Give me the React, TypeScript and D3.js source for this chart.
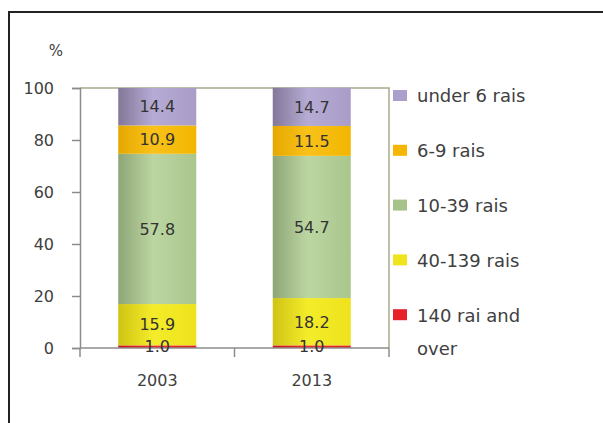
import React from 'react';
import { useRef, useEffect } from 'react';
import * as d3 from 'd3';

// categories and series (percent share of holdings, bottom to top)
const years = ["2003", "2013"];
const seriesNames = ["140 rai and over", "40-139 rais", "10-39 rais", "6-9 rais", "under 6 rais"];
const over140 = [1.0, 1.0];
const rais40to139 = [15.9, 18.2];
const rais10to39 = [57.8, 54.7];
const rais6to9 = [10.9, 11.5];
const under6 = [14.4, 14.7];
const yTicks = [0, 20, 40, 60, 80, 100];

const seriesValues = [over140, rais40to139, rais10to39, rais6to9, under6];

const chartStyle = {
  margin: { top: 88, left: 80, bottom: 75, right: 214 },
  font: "'DejaVu Sans', Verdana, sans-serif",
  fontSize: 16,
  legendFontSize: 18,
  textColor: "#404040",
  axisColor: "#8c8c8c",
  plotBorder: "#a8a88c",
  // [left edge, middle, right edge] of each bar colour
  colors: [
    ["#c8101a", "#ec2a2a", "#e02020"],
    ["#cfc414", "#f4ec2a", "#eee21c"],
    ["#8ea676", "#bcd6a2", "#a9c68c"],
    ["#e6a800", "#f9c21a", "#f2b600"],
    ["#837898", "#b6abd4", "#a99dc8"],
  ],
  legendColors: ["#e8202a", "#f0e41c", "#a6c48a", "#f6b600", "#ab9fcb"],
};

const width = 603;
const height = 423;

const App: React.FC = () => {
  const svgRef = useRef<SVGSVGElement>(null);

  useEffect(() => {
    if (!svgRef.current) return;
    const m = chartStyle.margin;
    const svg = d3.select(svgRef.current);
    svg.selectAll("*").remove();

    // outer frame (runs off the right and bottom)
    svg.append("path")
      .attr("d", `M9,${height + 5} L9,12 L${width + 5},12`)
      .attr("fill", "none")
      .attr("stroke", "#222")
      .attr("stroke-width", 2);

    const x = d3.scaleBand<string>()
      .domain(years)
      .range([m.left, width - m.right])
      .paddingInner(0.495)
      .paddingOuter(0.2475);

    const y = d3.scaleLinear()
      .domain([0, 100])
      .range([height - m.bottom, m.top]);

    const defs = svg.append("defs");
    chartStyle.colors.forEach((c, i) => {
      const g = defs.append("linearGradient")
        .attr("id", `grad${i}`)
        .attr("x1", "0").attr("x2", "1").attr("y1", "0").attr("y2", "0");
      g.append("stop").attr("offset", "0%").attr("stop-color", c[0]);
      g.append("stop").attr("offset", "45%").attr("stop-color", c[1]);
      g.append("stop").attr("offset", "100%").attr("stop-color", c[2]);
    });

    // plot area border
    svg.append("path")
      .attr("d", `M${m.left},${y(100)} L${width - m.right},${y(100)} L${width - m.right},${y(0)}`)
      .attr("fill", "none")
      .attr("stroke", chartStyle.plotBorder)
      .attr("stroke-width", 1.5);

    // stacked bars
    const stackData = years.map((yr, i) => {
      const row: any = { year: yr };
      seriesNames.forEach((s, k) => { row[s] = seriesValues[k][i]; });
      return row;
    });
    const stack = d3.stack<any>().keys(seriesNames)(stackData);

    stack.forEach((layer, k) => {
      svg.append("g")
        .selectAll("rect")
        .data(layer)
        .join("rect")
        .attr("x", d => x(d.data.year)!)
        .attr("width", x.bandwidth())
        .attr("y", d => y(d[1]))
        .attr("height", d => y(d[0]) - y(d[1]))
        .attr("fill", `url(#grad${k})`);
    });

    // axes
    const yAxis = d3.axisLeft(y).tickValues(yTicks).tickSize(8).tickPadding(18);
    svg.append("g")
      .attr("transform", `translate(${m.left},0)`)
      .call(yAxis)
      .call(g => g.select(".domain").attr("stroke", chartStyle.axisColor).attr("stroke-width", 1.5))
      .call(g => g.selectAll(".tick line").attr("stroke", chartStyle.axisColor).attr("stroke-width", 1.5))
      .call(g => g.selectAll(".tick text")
        .attr("fill", chartStyle.textColor)
        .style("font-family", chartStyle.font)
        .style("font-size", `${chartStyle.fontSize}px`));

    const xAxisG = svg.append("g")
      .attr("transform", `translate(0,${y(0)})`);
    xAxisG.append("line")
      .attr("x1", m.left).attr("x2", width - m.right)
      .attr("stroke", chartStyle.axisColor).attr("stroke-width", 1.5);
    const boundaries = [m.left, ...years.map(yr => x(yr)! + x.bandwidth() / 2 + x.step() / 2)];
    xAxisG.selectAll("line.tk")
      .data(boundaries)
      .join("line")
      .attr("class", "tk")
      .attr("x1", d => d).attr("x2", d => d)
      .attr("y1", 0).attr("y2", 9)
      .attr("stroke", chartStyle.axisColor).attr("stroke-width", 1.5);
    xAxisG.selectAll("text")
      .data(years)
      .join("text")
      .attr("x", d => x(d)! + x.bandwidth() / 2)
      .attr("y", 38)
      .attr("text-anchor", "middle")
      .attr("fill", chartStyle.textColor)
      .style("font-family", chartStyle.font)
      .style("font-size", `${chartStyle.fontSize}px`)
      .text(d => d);

    // data labels
    stack.forEach(layer => {
      svg.append("g")
        .selectAll("text")
        .data(layer)
        .join("text")
        .attr("x", d => x(d.data.year)! + x.bandwidth() / 2)
        .attr("y", d => y((d[0] + d[1]) / 2))
        .attr("dy", "0.36em")
        .attr("text-anchor", "middle")
        .attr("fill", "#333")
        .style("font-family", chartStyle.font)
        .style("font-size", `${chartStyle.fontSize}px`)
        .text(d => (d[1] - d[0]).toFixed(1));
    });

    // "%" unit label
    svg.append("text")
      .attr("x", 56).attr("y", y(100) - 32)
      .attr("text-anchor", "middle")
      .attr("fill", chartStyle.textColor)
      .style("font-family", chartStyle.font)
      .style("font-size", "15px")
      .text("%");

    // legend (top to bottom)
    const legendOrder = [4, 3, 2, 1, 0];
    const legendX = width - m.right + 4;
    const legend = svg.append("g");
    const legendText = (tx: number, ty: number, s: string) =>
      legend.append("text")
        .attr("x", tx).attr("y", ty)
        .attr("dy", "0.36em")
        .attr("fill", chartStyle.textColor)
        .style("font-family", chartStyle.font)
        .style("font-size", `${chartStyle.legendFontSize}px`)
        .text(s);
    legendOrder.forEach((k, i) => {
      const cy = 96 + i * 54.8;
      legend.append("rect")
        .attr("x", legendX).attr("y", cy - 6)
        .attr("width", 14).attr("height", 11)
        .attr("fill", chartStyle.legendColors[k]);
      if (k === 0) {
        legendText(legendX + 24, cy, "140 rai and");
        legendText(legendX + 24, cy + 33, "over");
      } else {
        legendText(legendX + 24, cy, seriesNames[k]);
      }
    });
  }, []);

  return (
    <svg
      ref={svgRef}
      width={width}
      height={height}
      style={{ position: "absolute", left: 0, top: 0, background: "#fff" }}
    />
  );
};

export default App;
